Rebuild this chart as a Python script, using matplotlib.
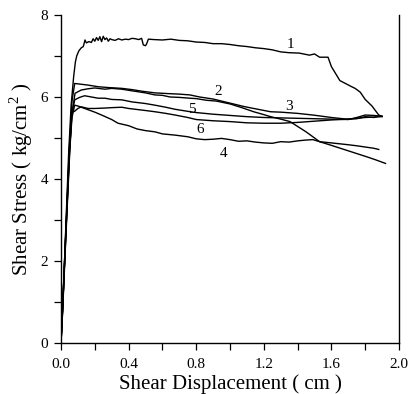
import matplotlib
matplotlib.use("Agg")
import matplotlib.pyplot as plt
from matplotlib.ticker import MultipleLocator, FormatStrFormatter

plt.rcParams['font.family'] = ['Liberation Serif', 'DejaVu Serif']
plt.rcParams['mathtext.fontset'] = 'custom'
plt.rcParams['mathtext.rm'] = 'Liberation Serif'

# Curve 1
x1 = [0.0, 0.01, 0.02, 0.03, 0.045, 0.06, 0.075, 0.085, 0.093, 0.105, 0.12, 0.132, 0.142, 0.15, 0.165,
      0.18, 0.19, 0.2, 0.21, 0.22, 0.23, 0.24, 0.25, 0.26, 0.27, 0.28, 0.29, 0.3, 0.32, 0.34, 0.36, 0.38,
      0.4, 0.42, 0.44, 0.46, 0.477, 0.487, 0.50, 0.507, 0.517, 0.55, 0.6, 0.65, 0.7, 0.75, 0.8, 0.85, 0.9,
      0.95, 1.0, 1.05, 1.1, 1.15, 1.2, 1.25, 1.3, 1.35, 1.41, 1.47, 1.5, 1.53, 1.58, 1.60, 1.65, 1.72,
      1.74, 1.77, 1.80, 1.84, 1.88, 1.90]
y1 = [0.0, 0.8, 1.9, 3.0, 4.6, 5.8, 6.5, 6.85, 7.0, 7.12, 7.2, 7.23, 7.39, 7.32, 7.35,
      7.33, 7.42, 7.36, 7.45, 7.38, 7.47, 7.35, 7.48, 7.4, 7.44, 7.36, 7.42, 7.4, 7.38, 7.42, 7.39, 7.41,
      7.4, 7.43, 7.42, 7.4, 7.43, 7.27, 7.25, 7.3, 7.41, 7.40, 7.39, 7.41, 7.38, 7.37, 7.34, 7.33, 7.3,
      7.3, 7.28, 7.25, 7.23, 7.2, 7.18, 7.15, 7.1, 7.08, 7.07, 7.02, 7.05, 6.97, 6.97, 6.74, 6.4, 6.25,
      6.21, 6.12, 5.94, 5.78, 5.56, 5.53]

# Curve 2 (steep decline at end)
x2 = [0.0, 0.01, 0.03, 0.05, 0.065, 0.083, 0.12, 0.16, 0.2, 0.26, 0.3, 0.36, 0.42, 0.5, 0.556, 0.6,
      0.645, 0.7, 0.763, 0.8, 0.86, 0.92, 1.0, 1.07, 1.14, 1.2, 1.24, 1.3, 1.355, 1.45, 1.53, 1.6, 1.69,
      1.75, 1.81, 1.86, 1.92]
y2 = [0.0, 0.9, 2.8, 4.7, 5.6, 6.09, 6.17, 6.2, 6.22, 6.19, 6.21, 6.19, 6.15, 6.1, 6.05, 6.04,
      6.0, 5.99, 5.97, 5.96, 5.92, 5.9, 5.83, 5.74, 5.64, 5.57, 5.52, 5.46, 5.4, 5.15, 4.91, 4.82, 4.7,
      4.62, 4.54, 4.47, 4.38]

# Curve 3 (top in the middle, flat end)
x3 = [0.0, 0.01, 0.03, 0.05, 0.065, 0.081, 0.12, 0.16, 0.22, 0.28, 0.36, 0.42, 0.48, 0.556, 0.6,
      0.645, 0.7, 0.763, 0.82, 0.9, 0.96, 1.02, 1.08, 1.14, 1.24, 1.3, 1.4, 1.49, 1.6, 1.69, 1.75,
      1.8, 1.85, 1.89]
y3 = [0.0, 0.9, 2.9, 4.8, 5.9, 6.33, 6.31, 6.29, 6.25, 6.23, 6.21, 6.18, 6.14, 6.1, 6.09,
      6.08, 6.07, 6.05, 6.0, 5.95, 5.89, 5.83, 5.77, 5.72, 5.64, 5.63, 5.6, 5.56, 5.5, 5.46, 5.47,
      5.52, 5.5, 5.54]

# Curve 4
x4 = [0.0, 0.01, 0.03, 0.05, 0.065, 0.081, 0.1, 0.14, 0.2, 0.24, 0.3, 0.337, 0.4, 0.45, 0.5, 0.556,
      0.6, 0.675, 0.75, 0.8, 0.85, 0.9, 0.95, 1.0, 1.05, 1.1, 1.15, 1.2, 1.25, 1.3, 1.35, 1.4, 1.45,
      1.49, 1.53, 1.6, 1.69, 1.75, 1.8, 1.85, 1.88]
y4 = [0.0, 0.9, 2.8, 4.6, 5.5, 5.8, 5.78, 5.72, 5.63, 5.56, 5.45, 5.36, 5.3, 5.22, 5.18, 5.15,
      5.1, 5.07, 5.03, 4.98, 4.96, 4.97, 4.99, 4.96, 4.92, 4.93, 4.9, 4.88, 4.87, 4.91, 4.9, 4.93, 4.95,
      4.96, 4.91, 4.88, 4.84, 4.81, 4.78, 4.75, 4.72]

# Curve 5
x5 = [0.0, 0.01, 0.03, 0.05, 0.065, 0.081, 0.11, 0.14, 0.18, 0.22, 0.26, 0.3, 0.36, 0.42, 0.5,
      0.556, 0.62, 0.675, 0.75, 0.8, 0.9, 1.0, 1.1, 1.2, 1.3, 1.4, 1.5, 1.6, 1.7, 1.75, 1.8, 1.85, 1.9]
y5 = [0.0, 0.9, 2.8, 4.7, 5.6, 5.93, 5.99, 6.03, 6.0, 5.97, 5.97, 5.94, 5.93, 5.88, 5.84,
      5.8, 5.75, 5.7, 5.65, 5.62, 5.58, 5.55, 5.52, 5.5, 5.49, 5.48, 5.47, 5.46, 5.45, 5.5, 5.56, 5.55, 5.53]

# Curve 6
x6 = [0.0, 0.01, 0.03, 0.05, 0.063, 0.08, 0.1, 0.12, 0.16, 0.2, 0.26, 0.3, 0.36, 0.4, 0.46, 0.5,
      0.556, 0.62, 0.675, 0.75, 0.8, 0.9, 1.0, 1.1, 1.2, 1.3, 1.4, 1.5, 1.6, 1.7, 1.8, 1.85, 1.9]
y6 = [0.0, 0.8, 2.7, 4.5, 5.63, 5.65, 5.72, 5.76, 5.72, 5.72, 5.73, 5.74, 5.75, 5.72, 5.69, 5.67,
      5.64, 5.6, 5.56, 5.5, 5.45, 5.42, 5.4, 5.37, 5.36, 5.36, 5.38, 5.41, 5.44, 5.46, 5.5, 5.51, 5.52]

curve_x = [x1, x2, x3, x4, x5, x6]
curve_y = [y1, y2, y3, y4, y5, y6]

label_text = ['1', '2', '3', '4', '5', '6']
label_x = [1.355, 0.93, 1.35, 0.96, 0.775, 0.822]
label_y = [7.27, 6.13, 5.76, 4.62, 5.70, 5.20]

fig = plt.figure(figsize=(4.08, 3.94), dpi=100)
ax = fig.add_axes([0.1495, 0.1294, 0.8285, 0.8326])

for xs, ys in zip(curve_x, curve_y):
    ax.plot(xs, ys, color='black', lw=1.0)

for t, lx, ly in zip(label_text, label_x, label_y):
    ax.text(lx, ly, t, fontsize=11, ha='center', va='center', color='black')

ax.set_xlim(0, 2.0)
ax.set_ylim(0, 8)
ax.xaxis.set_major_locator(MultipleLocator(0.4))
ax.xaxis.set_minor_locator(MultipleLocator(0.2))
ax.yaxis.set_major_locator(MultipleLocator(2))
ax.yaxis.set_minor_locator(MultipleLocator(1))
ax.xaxis.set_major_formatter(FormatStrFormatter('%.1f'))
ax.yaxis.set_major_formatter(FormatStrFormatter('%d'))
ax.tick_params(which='both', direction='out', length=5, width=0.9, labelsize=11)
ax.tick_params(axis='x', which='major', pad=6)
ax.tick_params(axis='y', which='major', pad=4)
ax.tick_params(axis='y', which='both', right=False)
ax.tick_params(axis='x', which='both', top=False)
ax.spines['top'].set_visible(False)
for s in ['left', 'bottom', 'right']:
    ax.spines[s].set_linewidth(1.0)

ax.set_xlabel('Shear Displacement ( cm )', fontsize=15, labelpad=2)
ax.set_ylabel(r'Shear Stress ( kg/cm$^2$ )', fontsize=15, labelpad=4)

fig.savefig('out.png', dpi=100)
